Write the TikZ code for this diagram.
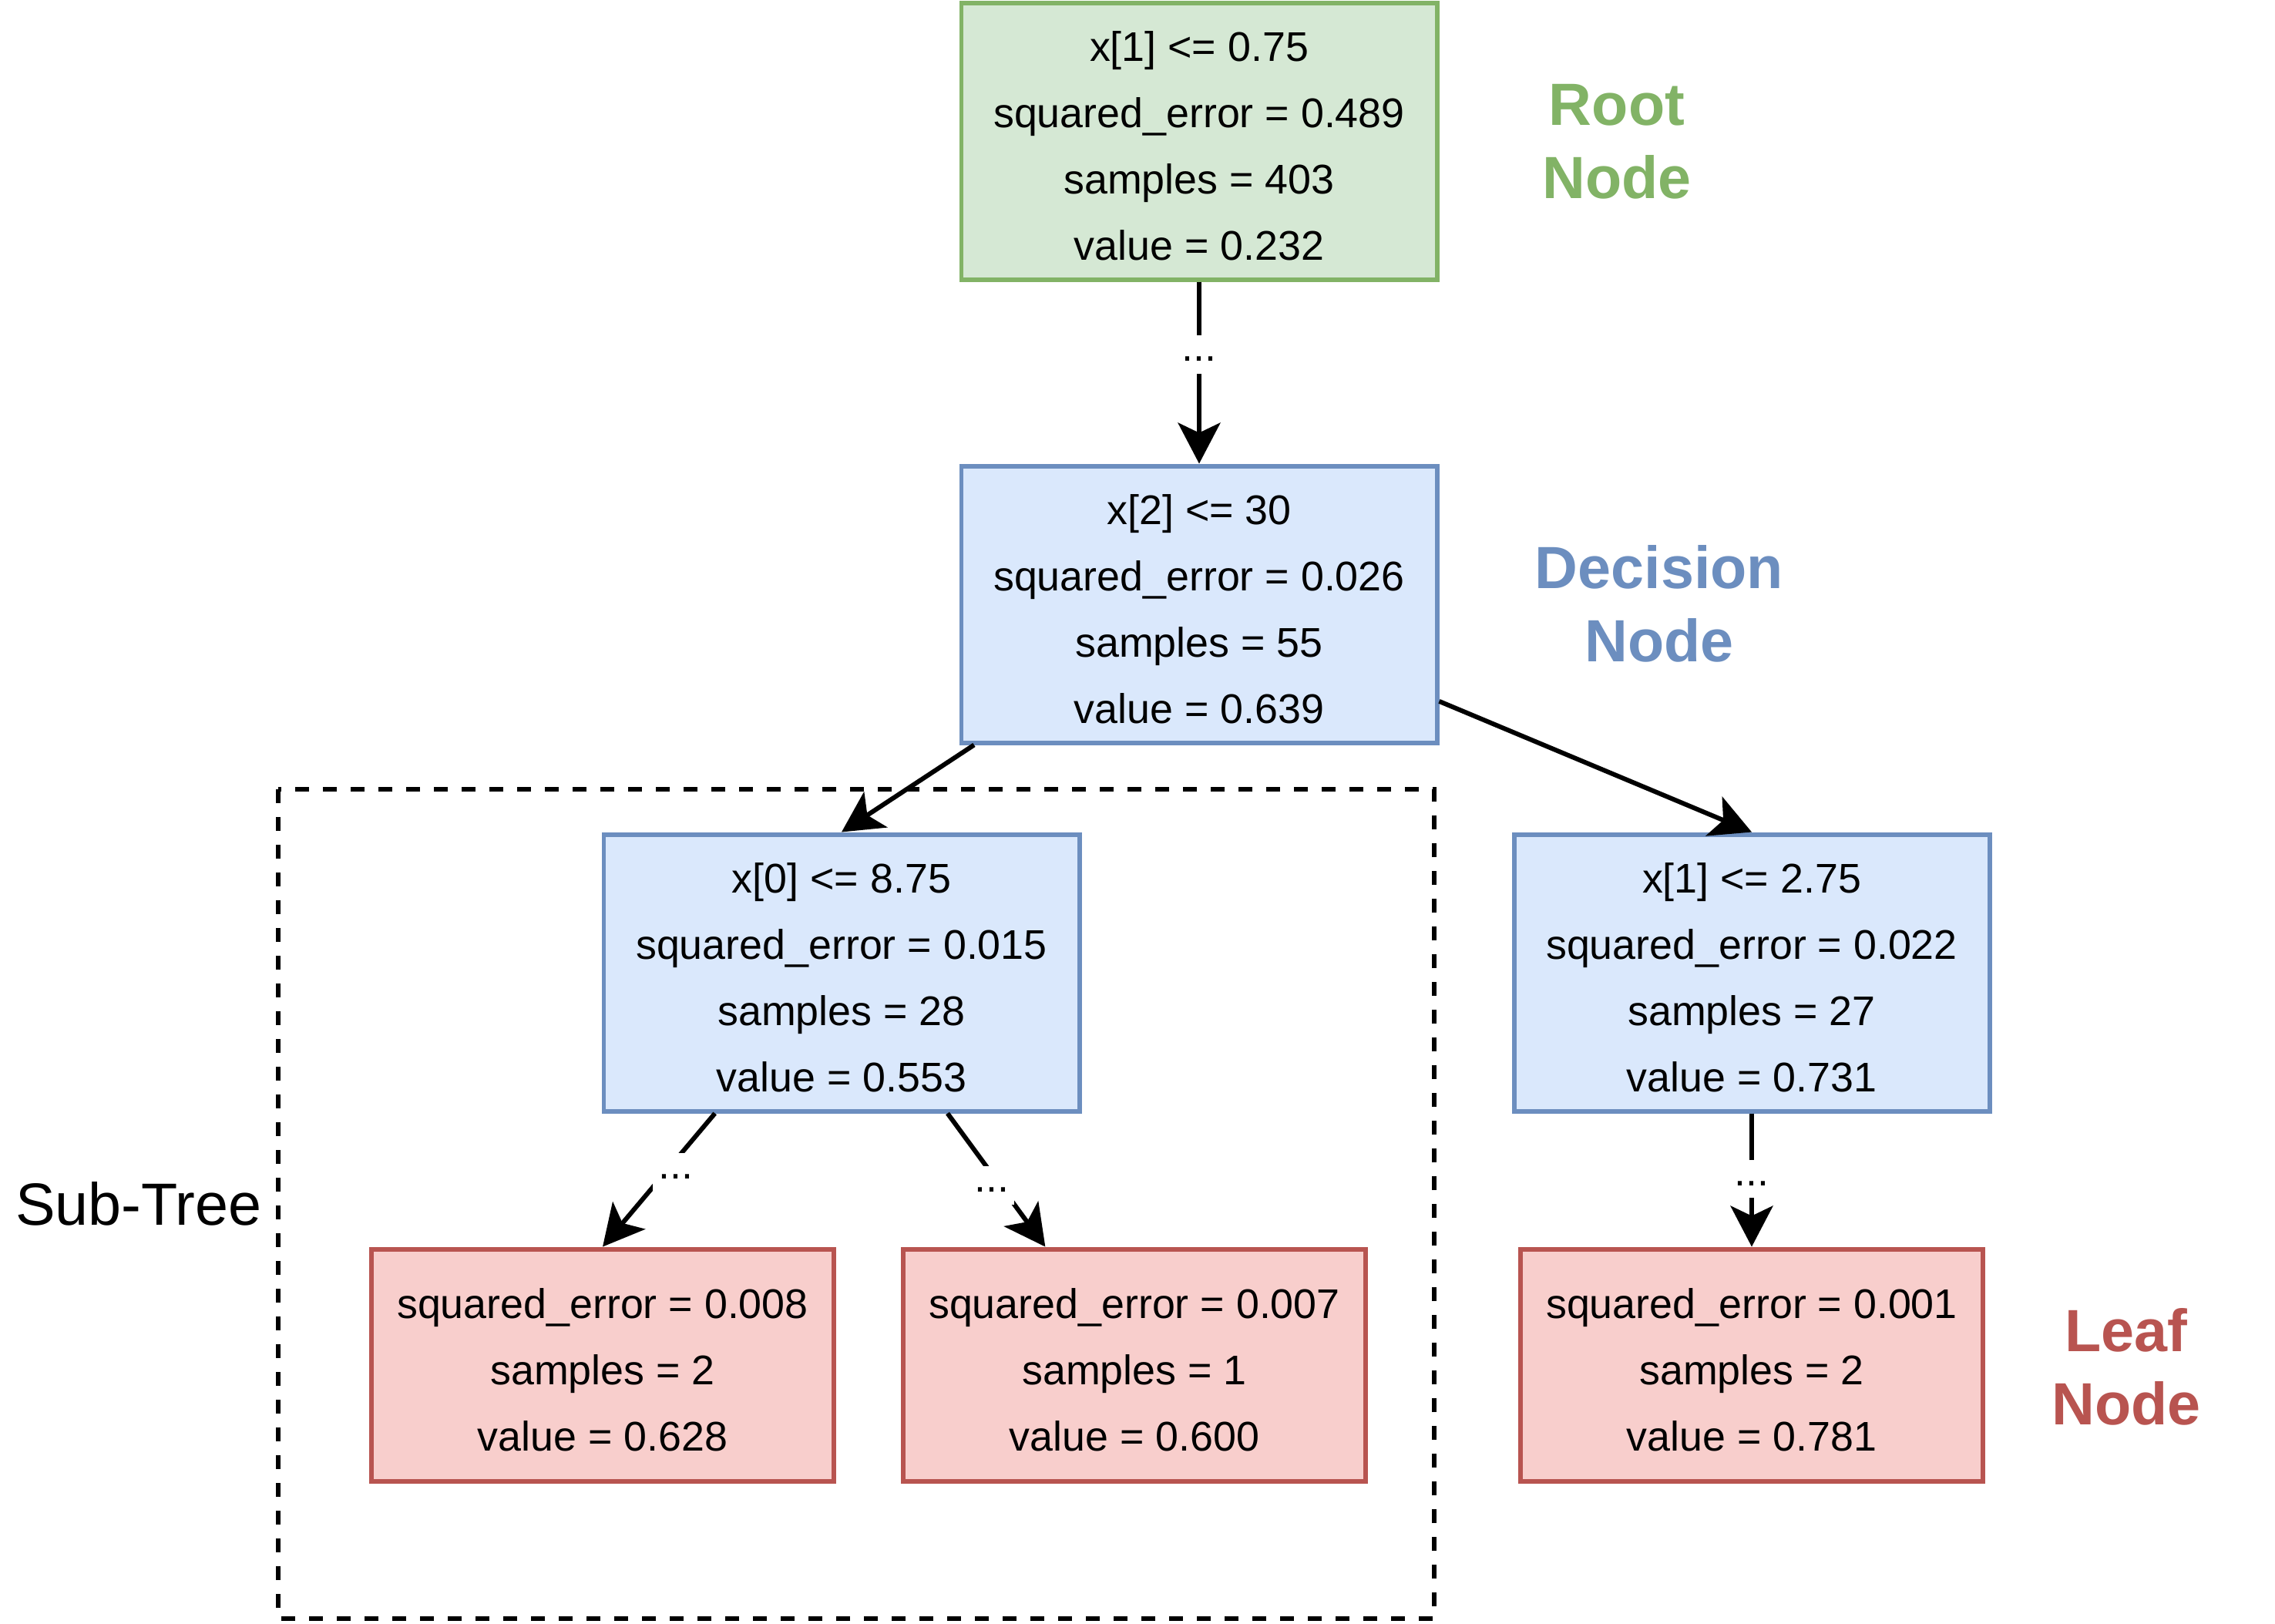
\documentclass[tikz,border=0pt]{standalone}
\usepackage{fontspec}
\setmainfont{Liberation Sans}
\usetikzlibrary{arrows.meta}
\definecolor{rootfill}{HTML}{D5E8D4}
\definecolor{rootline}{HTML}{82B366}
\definecolor{decfill}{HTML}{DAE8FC}
\definecolor{decline}{HTML}{6C8EBF}
\definecolor{leaffill}{HTML}{F8CECC}
\definecolor{leafline}{HTML}{B85450}
\newcommand{\toprow}{\rule{0pt}{14.5pt}}
\begin{document}
\begin{tikzpicture}[>={Stealth[length=5.3mm,width=5.5mm,inset=1.3mm]},
    box/.style={draw, line width=1.7pt, align=center, inner sep=0pt,
      minimum width=6.17cm, minimum height=3.59cm,
      font=\fontsize{15.3}{24.5}\selectfont},
    rootbox/.style={box, draw=rootline, fill=rootfill},
    decbox/.style={box, draw=decline, fill=decfill},
    leafbox/.style={box, draw=leafline, fill=leaffill,
      minimum width=6.00cm, minimum height=3.01cm},
    link/.style={->, line width=1.7pt},
    gap/.style={fill=white, inner sep=2pt, text height=0.75em, text depth=0.25em,
      font=\fontsize{15.3}{18}\selectfont},
    nodetag/.style={align=center, font=\bfseries\fontsize{22}{27}\selectfont}]
        \useasboundingbox (0,0) rectangle (29.52,-21.06);

        \draw[line width=1.6pt, dash pattern=on 1.8mm off 1.8mm] (3.61,-10.24) rectangle (18.61,-21.00);

        \node[rootbox] (root) at (15.56,-1.83) {\toprow x[1] <= 0.75\\ squared\_error = 0.489\\ samples = 403\\ value = 0.232};
        \node[decbox] (dec) at (15.56,-7.84) {\toprow x[2] <= 30\\ squared\_error = 0.026\\ samples = 55\\ value = 0.639};
        \node[decbox] (decl) at (10.92,-12.62) {\toprow x[0] <= 8.75\\ squared\_error = 0.015\\ samples = 28\\ value = 0.553};
        \node[decbox] (decr) at (22.73,-12.62) {\toprow x[1] <= 2.75\\ squared\_error = 0.022\\ samples = 27\\ value = 0.731};
        \node[leafbox] (leafa) at (7.82,-17.71) {\toprow squared\_error = 0.008\\ samples = 2\\ value = 0.628};
        \node[leafbox] (leafb) at (14.72,-17.71) {\toprow squared\_error = 0.007\\ samples = 1\\ value = 0.600};
        \node[leafbox] (leafc) at (22.73,-17.71) {\toprow squared\_error = 0.001\\ samples = 2\\ value = 0.781};

        \draw[link] (root.south) -- node[gap, pos=0.40] {...} (dec.north);
        \draw[link] (dec.212.6) -- (decl.north);
        \draw[link] (dec.-22.7) -- (decr.north);
        \draw[link] (decl.228.7) -- node[gap, pos=0.44, xshift=1.3mm] {...} (leafa.north);
        \draw[link] (decl.-53) -- node[gap, pos=0.54, xshift=-1.1mm] {...} (leafb.127.8);
        \draw[link] (decr.south) -- node[gap, pos=0.49] {...} (leafc.north);

        \node[nodetag, text=rootline] (roottag) at (20.98,-1.84) {Root\\ Node};
        \node[nodetag, text=decline] (dectag) at (21.53,-7.83) {Decision\\ Node};
        \node[nodetag, text=leafline] (leaftag) at (27.59,-17.73) {Leaf\\ Node};
        \node[font=\fontsize{22}{27}\selectfont] (subtag) at (1.80,-15.62) {Sub-Tree};
\end{tikzpicture}
\end{document}
